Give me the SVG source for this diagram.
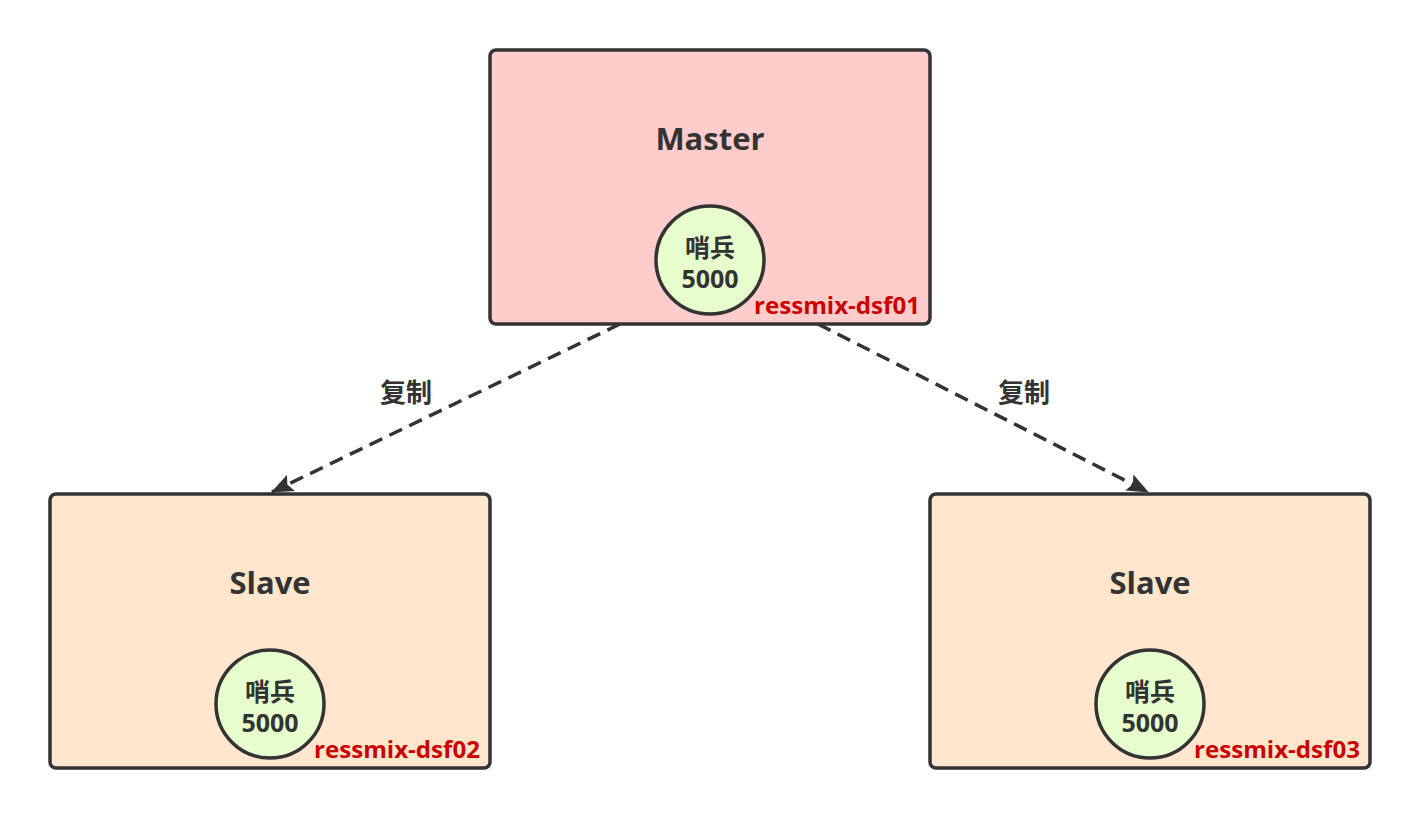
<svg xmlns="http://www.w3.org/2000/svg" width="1420" height="820" viewBox="0 0 1420 820">
<style>
.box{stroke:#333333;stroke-width:3.5}
.master{fill:#FFCCCC}
.slave{fill:#FFE6CC}
.sentinel{fill:#E6FFCC;stroke:#333333;stroke-width:3.5}
.title{font-family:"Open Sans","Noto Sans CJK SC",sans-serif;font-weight:bold;font-size:31px;fill:#333333;text-anchor:middle}
.st{font-family:"Open Sans","Noto Sans CJK SC",sans-serif;font-weight:bold;font-size:25px;fill:#333333;text-anchor:middle}
.host{font-family:"Open Sans","Noto Sans CJK SC",sans-serif;font-weight:bold;font-size:23px;fill:#CC0000;text-anchor:end}
.lbl{font-family:"Noto Sans CJK SC",sans-serif;font-weight:bold;font-size:26px;fill:#333333;text-anchor:middle}
.edge{fill:none;stroke:#333333;stroke-width:3.5;stroke-dasharray:14 8}
</style>
<defs>
<marker id="arrow" viewBox="0 0 22 18" refX="21" refY="9" markerWidth="22" markerHeight="18" orient="auto" markerUnits="userSpaceOnUse">
<path d="M0,0 L22,9 L0,18 L4,9 Z" fill="#333333"/>
</marker>
</defs>
<g id="connectors">
<line class="edge" x1="620" y1="324" x2="272" y2="492" marker-end="url(#arrow)"/>
<line class="edge" x1="818" y1="324" x2="1148" y2="492" marker-end="url(#arrow)"/>
<text class="lbl" x="406" y="402">复制</text>
<text class="lbl" x="1024" y="402">复制</text>
</g>
<g id="master">
<rect class="box master" x="490" y="50" width="440" height="274" rx="6"/>
<text class="title" x="710" y="150">Master</text>
<circle class="sentinel" cx="710" cy="260" r="54"/>
<text class="st" x="710" y="257">哨兵<tspan x="710" dy="31">5000</tspan></text>
<text class="host" x="920" y="314" textLength="166" lengthAdjust="spacingAndGlyphs">ressmix-dsf01</text>
</g>
<g id="slave1">
<rect class="box slave" x="50" y="494" width="440" height="274" rx="6"/>
<text class="title" x="270" y="594">Slave</text>
<circle class="sentinel" cx="270" cy="704" r="54"/>
<text class="st" x="270" y="701">哨兵<tspan x="270" dy="31">5000</tspan></text>
<text class="host" x="480" y="758" textLength="166" lengthAdjust="spacingAndGlyphs">ressmix-dsf02</text>
</g>
<g id="slave2">
<rect class="box slave" x="930" y="494" width="440" height="274" rx="6"/>
<text class="title" x="1150" y="594">Slave</text>
<circle class="sentinel" cx="1150" cy="704" r="54"/>
<text class="st" x="1150" y="701">哨兵<tspan x="1150" dy="31">5000</tspan></text>
<text class="host" x="1360" y="758" textLength="166" lengthAdjust="spacingAndGlyphs">ressmix-dsf03</text>
</g>
</svg>
